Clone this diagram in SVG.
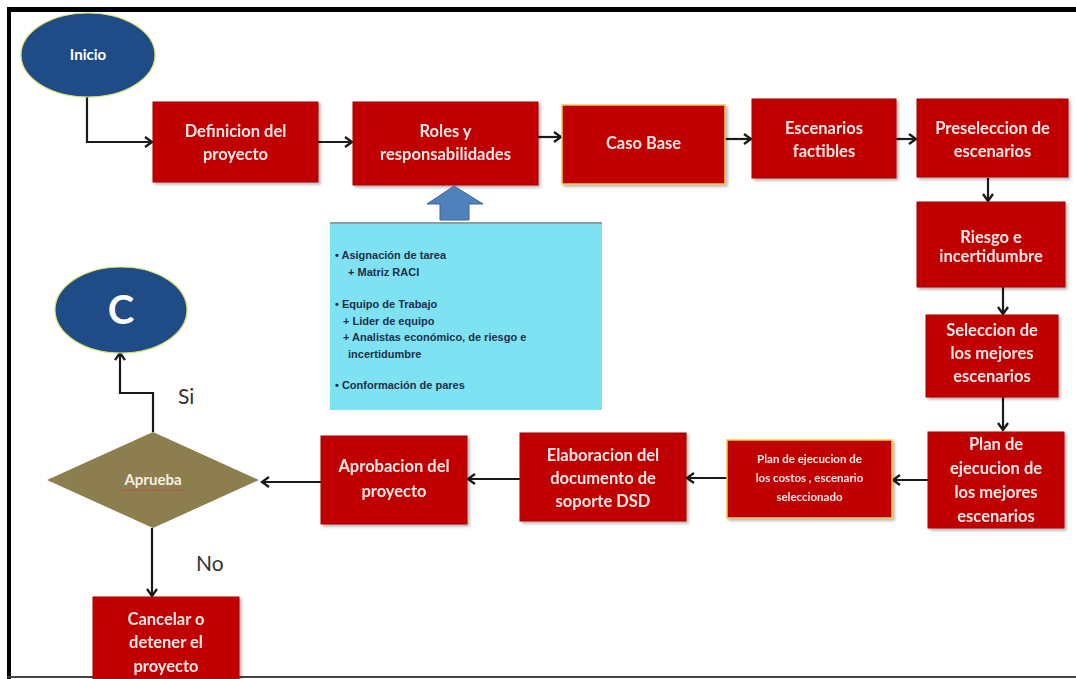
<svg xmlns="http://www.w3.org/2000/svg" width="1076" height="679" viewBox="0 0 1076 679">
<defs>
<style>
.box{fill:#c00000;stroke:#a80000;stroke-width:1}
.boxy{fill:#c00000;stroke:#f2c94c;stroke-width:1.5}
.t{font-family:Lato,"Open Sans",sans-serif;font-weight:bold;font-size:16.5px;fill:#fce6e6;text-anchor:middle}
.ts{font-family:Lato,"Open Sans",sans-serif;font-weight:bold;font-size:11.5px;fill:#fce6e6;text-anchor:middle}
.oval{fill:#1f4b86;stroke:#d6e06a;stroke-width:1.2}
.lbl{font-family:Lato,"Open Sans",sans-serif;font-size:21px;fill:#333333}
.note{font-family:"Liberation Sans",Arial,sans-serif;font-weight:bold;font-size:11px;fill:#1d2f4a}
.c{fill:none;stroke:#1a1a1a;stroke-width:2.2}
</style>
<marker id="ah" markerWidth="12" markerHeight="12" refX="8.5" refY="6" orient="auto" markerUnits="userSpaceOnUse">
<path d="M1.5,1 L8.5,6 L1.5,11" fill="none" stroke="#1a1a1a" stroke-width="2.3"/>
</marker>
<filter id="sh" x="-10%" y="-10%" width="125%" height="130%">
<feDropShadow dx="2" dy="2" stdDeviation="1.5" flood-color="#000" flood-opacity="0.3"/>
</filter>
</defs>
<rect width="1076" height="679" fill="#ffffff"/>
<!-- frame -->
<line x1="7" y1="9.5" x2="1076" y2="9.5" stroke="#000" stroke-width="5"/>
<line x1="9" y1="7" x2="9" y2="679" stroke="#000" stroke-width="4"/>
<line x1="7" y1="677" x2="1076" y2="677" stroke="#444" stroke-width="2"/>

<g id="connectors">
<path class="c" d="M87,97 V142 H152" marker-end="url(#ah)"/>
<path class="c" d="M318,142 H352" marker-end="url(#ah)"/>
<path class="c" d="M538,137 H561" marker-end="url(#ah)"/>
<path class="c" d="M725,139 H751" marker-end="url(#ah)"/>
<path class="c" d="M896,139 H916" marker-end="url(#ah)"/>
<path class="c" d="M988,178 V201" marker-end="url(#ah)"/>
<path class="c" d="M1003,287 V314" marker-end="url(#ah)"/>
<path class="c" d="M1003,397 V430" marker-end="url(#ah)"/>
<path class="c" d="M928,480 H893" marker-end="url(#ah)"/>
<path class="c" d="M727,478 H687" marker-end="url(#ah)"/>
<path class="c" d="M520,479 H468" marker-end="url(#ah)"/>
<path class="c" d="M321,482 H262" marker-end="url(#ah)"/>
<path class="c" d="M153,432 V393 H120 V353" marker-end="url(#ah)"/>
<path class="c" d="M152,528 V596" marker-end="url(#ah)"/>
</g>

<g id="inicio">
<ellipse class="oval" cx="88" cy="55" rx="67" ry="42"/>
<text class="t" x="88" y="60" style="fill:#ffffff;font-size:15px">Inicio</text>
</g>

<g id="definicion" filter="url(#sh)">
<rect class="box" x="153" y="102" width="165" height="80"/>
<text class="t" x="235.5" y="137">Definicion del</text>
<text class="t" x="235.5" y="160">proyecto</text>
</g>

<g id="roles" filter="url(#sh)">
<rect class="box" x="353" y="102" width="185" height="83"/>
<text class="t" x="445.5" y="137">Roles y</text>
<text class="t" x="445.5" y="160">responsabilidades</text>
</g>

<g id="casobase" filter="url(#sh)">
<rect class="boxy" x="562" y="105" width="163" height="79"/>
<text class="t" x="643.5" y="149">Caso Base</text>
</g>

<g id="escenarios" filter="url(#sh)">
<rect class="box" x="752" y="99" width="144" height="79"/>
<text class="t" x="824" y="134">Escenarios</text>
<text class="t" x="824" y="157">factibles</text>
</g>

<g id="preseleccion" filter="url(#sh)">
<rect class="box" x="917" y="99" width="151" height="78"/>
<text class="t" x="992.5" y="134">Preseleccion de</text>
<text class="t" x="992.5" y="157">escenarios</text>
</g>

<g id="riesgo" filter="url(#sh)">
<rect class="box" x="917" y="202" width="148" height="85"/>
<text class="t" x="991" y="243">Riesgo e</text>
<text class="t" x="991" y="262">incertidumbre</text>
</g>

<g id="seleccion" filter="url(#sh)">
<rect class="box" x="926" y="315" width="132" height="82"/>
<text class="t" x="992" y="336">Seleccion de</text>
<text class="t" x="992" y="359">los mejores</text>
<text class="t" x="992" y="382">escenarios</text>
</g>

<g id="planmejores" filter="url(#sh)">
<rect class="box" x="928" y="432" width="136" height="96"/>
<text class="t" x="996" y="450">Plan de</text>
<text class="t" x="996" y="474">ejecucion de</text>
<text class="t" x="996" y="498">los mejores</text>
<text class="t" x="996" y="522">escenarios</text>
</g>

<g id="plancostos" filter="url(#sh)">
<rect class="boxy" x="727" y="440" width="165" height="78"/>
<text class="ts" x="809.5" y="463">Plan de ejecucion de</text>
<text class="ts" x="809.5" y="482">los costos , escenario</text>
<text class="ts" x="809.5" y="501">seleccionado</text>
</g>

<g id="elaboracion" filter="url(#sh)">
<rect class="box" x="520" y="433" width="166" height="88"/>
<text class="t" x="603" y="461">Elaboracion del</text>
<text class="t" x="603" y="484">documento de</text>
<text class="t" x="603" y="507">soporte DSD</text>
</g>

<g id="aprobacion" filter="url(#sh)">
<rect class="box" x="321" y="436" width="146" height="88"/>
<text class="t" x="394" y="472">Aprobacion del</text>
<text class="t" x="394" y="497">proyecto</text>
</g>

<g id="aprueba">
<polygon points="153,432 259,480 153,528 47,480" fill="#8c7e4f"/>
<text class="t" x="153" y="485" style="font-size:15px;fill:#f7f0e0">Aprueba</text>
<line x1="122" y1="490" x2="184" y2="490" stroke="#d04040" stroke-width="1" stroke-dasharray="2,1"/>
</g>

<g id="c">
<ellipse class="oval" cx="121" cy="310" rx="66" ry="43"/>
<text class="t" x="121" y="324" style="fill:#ffffff;font-size:40px">C</text>
</g>

<g id="cancelar" filter="url(#sh)">
<rect class="box" x="93" y="597" width="146" height="90"/>
<text class="t" x="166" y="625">Cancelar o</text>
<text class="t" x="166" y="648">detener el</text>
<text class="t" x="166" y="672">proyecto</text>
</g>

<g id="labels">
<text class="lbl" x="178" y="404">Si</text>
<text class="lbl" x="196" y="571">No</text>
</g>

<g id="notas">
<path d="M454,186 L483,204 L469,204 L469,220 L440,220 L440,204 L427,204 Z" fill="#4f81bd" stroke="#3a6598" stroke-width="1"/>
<rect x="330" y="222" width="272" height="188" fill="#7fe2f2"/>
<line x1="330" y1="223" x2="602" y2="223" stroke="#8aa0a8" stroke-width="2"/>
<text class="note" x="335" y="259">• Asignación de tarea</text>
<text class="note" x="348" y="276">+ Matriz RACI</text>
<text class="note" x="335" y="308">• Equipo de Trabajo</text>
<text class="note" x="343" y="325">+ Lider de equipo</text>
<text class="note" x="343" y="341">+ Analistas económico, de riesgo e</text>
<text class="note" x="348" y="358">incertidumbre</text>
<text class="note" x="335" y="389">• Conformación de pares</text>
</g>
</svg>
